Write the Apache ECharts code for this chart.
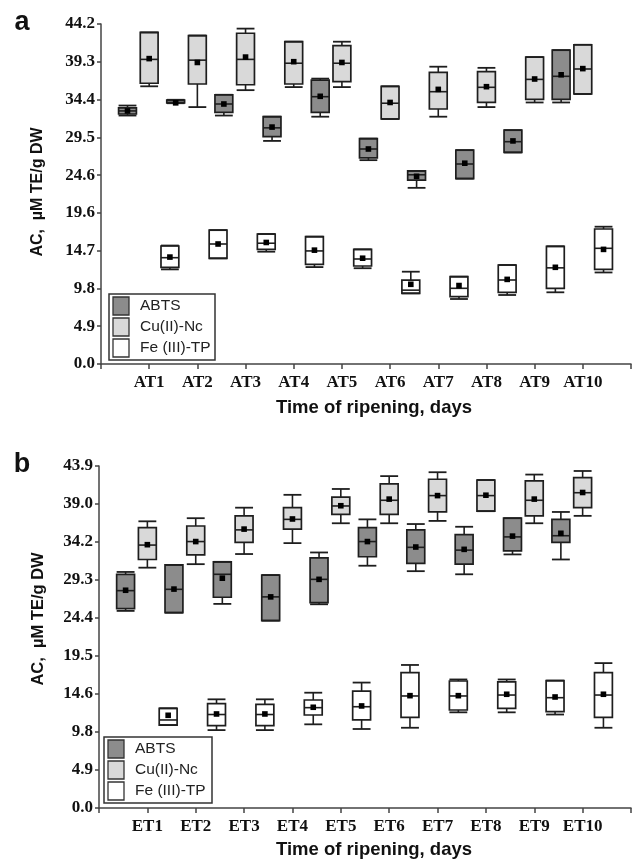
<!DOCTYPE html>
<html><head><meta charset="utf-8">
<script src="https://cdn.jsdelivr.net/npm/echarts@6/dist/echarts.min.js"></script>
<style>html,body{margin:0;padding:0;background:#fff}#c{width:634px;height:860px}</style>
</head><body><div id="c"></div>
<script>
// ---- categories & tick labels ----
const catsA = ['AT1','AT2','AT3','AT4','AT5','AT6','AT7','AT8','AT9','AT10'];
const catsB = ['ET1','ET2','ET3','ET4','ET5','ET6','ET7','ET8','ET9','ET10'];
const yLabelsA = ['0.0','4.9','9.8','14.7','19.6','24.6','29.5','34.4','39.3','44.2'];
const yLabelsB = ['0.0','4.9','9.8','14.6','19.5','24.4','29.3','34.2','39.0','43.9'];
const yMaxA = 44.2, yMaxB = 43.9;
const seriesNames = ['ABTS','Cu(II)-Nc','Fe (III)-TP'];

// ---- values: [whiskerLow, Q1, median, Q3, whiskerHigh, mean] ----
const abtsA = [
  [32.3,32.5,32.9,33.3,33.6,32.9],[33.9,33.95,34.25,34.3,34.35,33.95],[32.3,32.7,33.8,35.0,35.0,33.8],
  [29.0,29.55,30.7,32.15,32.15,30.8],[32.15,32.7,34.75,36.9,37.1,34.8],[26.5,26.8,27.95,29.3,29.3,27.95],
  [22.9,23.9,24.6,25.1,25.1,24.4],[24.1,24.1,26.0,27.8,27.8,26.1],[27.5,27.5,28.9,30.4,30.4,29.0],
  [34.0,34.4,37.4,40.8,40.8,37.6]];
const cuA = [
  [36.1,36.5,39.6,43.1,43.1,39.7],[33.4,36.4,39.5,42.7,42.7,39.2],[35.6,36.3,39.6,43.0,43.6,39.9],
  [36.0,36.4,39.1,41.9,41.9,39.3],[36.0,36.7,39.1,41.4,41.9,39.2],[31.85,31.85,33.9,36.1,36.1,34.0],
  [32.15,33.15,35.4,37.9,38.65,35.7],[33.4,34.0,35.97,38.0,38.5,36.05],[34.0,34.4,37.0,39.9,39.9,37.05],
  [35.1,35.1,38.35,41.5,41.5,38.4]];
const feA = [
  [12.3,12.57,13.82,15.34,15.4,13.9],[13.74,13.74,15.6,17.4,17.4,15.6],[14.6,14.9,15.7,16.9,16.9,15.8],
  [12.6,12.96,14.7,16.55,16.55,14.8],[12.45,12.74,13.65,14.9,14.9,13.75],[9.19,9.19,9.6,10.9,12.0,10.36],
  [8.45,8.75,9.84,11.35,11.35,10.2],[8.97,9.32,10.92,12.87,12.87,11.0],[9.32,9.84,12.5,15.3,15.3,12.57],
  [11.9,12.3,15.04,17.55,17.85,14.9]];
const abtsB = [
  [25.3,25.6,27.9,30.0,30.3,27.95],[25.07,25.07,28.07,31.2,31.2,28.1],[26.2,27.05,30.0,31.6,31.6,29.5],
  [24.05,24.05,27.1,29.9,29.9,27.1],[26.15,26.35,29.35,32.1,32.8,29.35],[31.1,32.25,34.2,36.0,37.05,34.2],
  [30.4,31.4,33.46,35.7,36.45,33.5],[30.0,31.3,33.1,35.1,36.1,33.2],[32.55,33.0,34.8,37.2,37.2,34.9],
  [31.9,34.1,34.95,37.05,38.0,35.26]];
const cuB = [
  [30.85,31.9,33.75,36.0,36.8,33.8],[31.3,32.5,34.2,36.2,37.2,34.2],[32.6,34.1,35.7,37.5,38.55,35.8],
  [34.0,35.8,37.05,38.55,40.2,37.1],[36.55,37.7,38.77,39.9,40.95,38.8],[36.55,37.7,39.5,41.6,42.6,39.65],
  [36.85,38.0,40.1,42.2,43.1,40.1],[38.1,38.1,40.1,42.1,42.1,40.15],[36.55,37.5,39.5,41.98,42.8,39.65],
  [37.5,38.55,40.47,42.4,43.26,40.5]];
const feB = [
  [10.65,10.65,11.3,12.8,12.8,11.9],[10.0,10.57,12.0,13.4,13.95,12.07],[10.0,10.57,12.0,13.3,13.95,12.07],
  [10.74,11.94,12.88,13.86,14.8,12.93],[10.14,11.3,13.0,15.0,16.1,13.1],[10.3,11.64,14.38,17.37,18.36,14.42],
  [12.28,12.58,14.38,16.3,16.5,14.42],[12.28,12.8,14.5,16.2,16.5,14.6],[12.0,12.36,14.16,16.35,16.35,14.25],
  [10.3,11.64,14.5,17.37,18.6,14.6]];

// ---- styling / layout ----
const fills = ['#8c8c8c', '#d9d9d9', '#ffffff'];
const offsets = [-0.45, 0, 0.43];
const stroke = '#1e1e1e';
const serif = "'Liberation Serif','Times New Roman',serif";
const sans = "'Liberation Sans',Arial,sans-serif";

function makeRender(fill) {
  return function (params, api) {
    const x = api.value(0);
    const lo = api.coord([x, api.value(1)]);
    const q1 = api.coord([x, api.value(2)]);
    const md = api.coord([x, api.value(3)]);
    const q3 = api.coord([x, api.value(4)]);
    const hi = api.coord([x, api.value(5)]);
    const mn = api.coord([x, api.value(6)]);
    const unit = api.size([1, 0])[0];
    const hw = unit * 0.185;
    const cx = lo[0];
    const line = (x1, y1, x2, y2, w) => ({ type: 'line', shape: { x1, y1, x2, y2 }, style: { stroke: stroke, lineWidth: w || 1.6 } });
    return {
      type: 'group',
      children: [
        line(cx, hi[1], cx, q3[1]),
        line(cx, q1[1], cx, lo[1]),
        { type: 'rect', shape: { x: cx - hw, y: q3[1], width: hw * 2, height: Math.max(q1[1] - q3[1], 0.5) },
          style: { fill: fill, stroke: stroke, lineWidth: 1.7 } },
        line(cx - hw, md[1], cx + hw, md[1]),
        line(cx - hw, hi[1], cx + hw, hi[1], 1.8),
        line(cx - hw, lo[1], cx + hw, lo[1], 1.8),
        { type: 'rect', shape: { x: cx - 2.8, y: mn[1] - 2.8, width: 5.6, height: 5.6 }, style: { fill: '#000' } }
      ]
    };
  };
}

function buildSeries(arr, s, gi) {
  return {
    type: 'custom',
    name: seriesNames[s],
    xAxisIndex: gi, yAxisIndex: gi,
    renderItem: makeRender(fills[s]),
    encode: { x: 0, y: [1, 2, 3, 4, 5, 6] },
    data: arr.map((d, i) => [i + 1 + offsets[s]].concat(d)),
    clip: false
  };
}

function xAxisCfg(gi, cats) {
  return {
    type: 'value', gridIndex: gi, min: 0, max: 11, interval: 1,
    axisLine: { show: true, lineStyle: { color: '#444', width: 1.5 } },
    axisTick: { show: true, length: 5, inside: false, lineStyle: { color: '#444', width: 1.5 } },
    axisLabel: { margin: 10, fontFamily: serif, fontWeight: 'bold', fontSize: 17, color: '#111',
      formatter: v => cats[v - 1] || '' },
    splitLine: { show: false }
  };
}
function yAxisCfg(gi, max, labels) {
  const step = max / 9;
  return {
    type: 'value', gridIndex: gi, min: 0, max: max, interval: step,
    axisLine: { show: true, lineStyle: { color: '#444', width: 1.5 } },
    axisTick: { show: true, length: 4, inside: false, lineStyle: { color: '#444', width: 1.5 } },
    axisLabel: { margin: 6, fontFamily: serif, fontWeight: 'bold', fontSize: 17, color: '#111',
      formatter: v => labels[Math.round(v / step)] },
    splitLine: { show: false }
  };
}

function legendGraphic(bx, by, bw, bh, sx, sy0, tx, dy) {
  const els = [{ type: 'rect', shape: { x: bx, y: by, width: bw, height: bh }, style: { fill: '#fff', stroke: '#333', lineWidth: 1.5 }, z: 10 }];
  seriesNames.forEach((n, i) => {
    els.push({ type: 'rect', shape: { x: sx, y: sy0 + i * dy, width: 16, height: 18 }, style: { fill: fills[i], stroke: '#333', lineWidth: 1.3 }, z: 11 });
    els.push({ type: 'text', x: tx, y: sy0 + i * dy + 9, style: { text: n, fontFamily: sans, fontSize: 15.5, fill: '#222', verticalAlign: 'middle', align: 'left' }, z: 11 });
  });
  return els;
}

const chart = echarts.init(document.getElementById('c'), null, { renderer: 'canvas' });
chart.setOption({
  backgroundColor: '#fff',
  animation: false,
  grid: [
    { left: 101, top: 24, width: 535, height: 340 },
    { left: 99, top: 466, width: 535, height: 342 }
  ],
  xAxis: [xAxisCfg(0, catsA), xAxisCfg(1, catsB)],
  yAxis: [yAxisCfg(0, yMaxA, yLabelsA), yAxisCfg(1, yMaxB, yLabelsB)],
  series: [
    buildSeries(abtsA, 0, 0), buildSeries(cuA, 1, 0), buildSeries(feA, 2, 0),
    buildSeries(abtsB, 0, 1), buildSeries(cuB, 1, 1), buildSeries(feB, 2, 1)
  ],
  graphic: [
    { type: 'text', x: 22, y: 23, style: { text: 'a', fontFamily: sans, fontWeight: 'bold', fontSize: 27, fill: '#111', align: 'center', verticalAlign: 'middle' } },
    { type: 'text', x: 22, y: 465, style: { text: 'b', fontFamily: sans, fontWeight: 'bold', fontSize: 27, fill: '#111', align: 'center', verticalAlign: 'middle' } },
    { type: 'text', x: 38, y: 192, rotation: Math.PI / 2, style: { text: 'AC,  \u00b5M TE/g DW', fontFamily: sans, fontWeight: 'bold', fontSize: 16, fill: '#111', align: 'center', verticalAlign: 'middle' } },
    { type: 'text', x: 38, y: 619, rotation: Math.PI / 2, style: { text: 'AC,  \u00b5M TE/g DW', fontFamily: sans, fontWeight: 'bold', fontSize: 16.5, fill: '#111', align: 'center', verticalAlign: 'middle' } },
    { type: 'text', x: 374, y: 408, style: { text: 'Time of ripening, days', fontFamily: sans, fontWeight: 'bold', fontSize: 18.5, fill: '#111', align: 'center', verticalAlign: 'middle' } },
    { type: 'text', x: 374, y: 850, style: { text: 'Time of ripening, days', fontFamily: sans, fontWeight: 'bold', fontSize: 18.5, fill: '#111', align: 'center', verticalAlign: 'middle' } }
  ].concat(legendGraphic(109, 294, 106, 66, 113, 297, 140, 21))
   .concat(legendGraphic(104, 737, 108, 66, 108, 740, 135, 21))
});
</script>
</body></html>
